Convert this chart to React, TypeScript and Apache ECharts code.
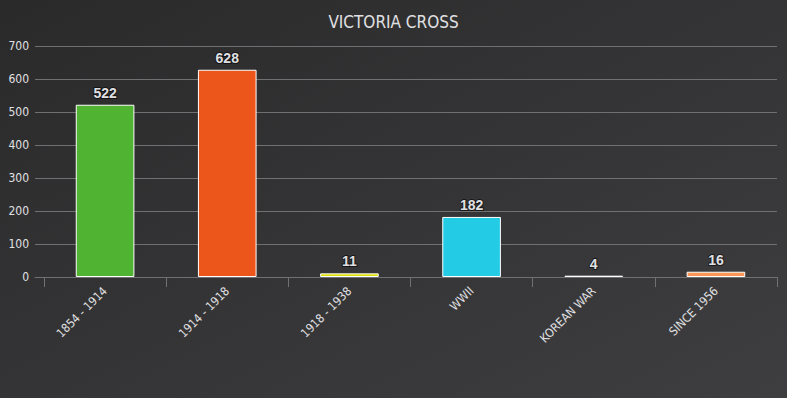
import React, { useEffect, useRef } from "react";
import * as echarts from "echarts";

const categories = ["1854 - 1914", "1914 - 1918", "1918 - 1938", "WWII", "KOREAN WAR", "SINCE 1956"];
const values = [522, 628, 11, 182, 4, 16];
const barColors = ["#50B432", "#ED561B", "#DDDF00", "#24CBE5", "#FFFFFF", "#FF9655"];
const yMax = 700;
const yInterval = 100;

const narrow = "'DejaVu Sans Condensed', 'Liberation Sans Narrow', sans-serif";

export default function App() {
  const ref = useRef<HTMLDivElement>(null);
  useEffect(() => {
    if (!ref.current) return;
    const chart = echarts.init(ref.current, undefined, { renderer: "svg" });
    chart.setOption({
      animation: false,
      backgroundColor: {
        type: "linear", x: 0, y: 0, x2: 1, y2: 1,
        colorStops: [
          { offset: 0, color: "#2a2a2b" },
          { offset: 1, color: "#3e3e40" },
        ],
      },
      title: {
        text: "VICTORIA CROSS",
        left: "center",
        top: 8,
        textStyle: { color: "#E0E0E3", fontSize: 17, fontWeight: "normal", fontFamily: narrow },
      },
      grid: [
        { left: 35, right: 10, top: 46, bottom: 121 },
        { left: 44, right: 10, top: 46, bottom: 121 },
      ],
      xAxis: [
        {
          type: "value", gridIndex: 0, min: 0, max: 1,
          axisLine: { show: true, lineStyle: { color: "#707073", width: 1 } },
          axisTick: { show: false }, axisLabel: { show: false }, splitLine: { show: false },
        },
        {
          type: "category", gridIndex: 1, data: categories,
          axisLine: { show: false },
          axisTick: { show: true, length: 10, lineStyle: { color: "#707073" } },
          axisLabel: { rotate: 45, color: "#E0E0E3", fontSize: 12, fontFamily: narrow, margin: 12 },
        },
      ],
      yAxis: [
        {
          type: "value", gridIndex: 0, min: 0, max: yMax, interval: yInterval,
          axisLine: { show: false }, axisTick: { show: false },
          axisLabel: { color: "#E0E0E3", fontSize: 12, fontFamily: narrow, margin: 6 },
          splitLine: { lineStyle: { color: "#707073", width: 1 } },
        },
        {
          type: "value", gridIndex: 1, min: 0, max: yMax, interval: yInterval,
          show: false, splitLine: { show: false },
        },
      ],
      series: [
        {
          type: "bar",
          xAxisIndex: 1,
          yAxisIndex: 1,
          barWidth: "48%",
          data: values.map((v, i) => ({
            value: v,
            itemStyle: { color: barColors[i], borderColor: "#FFFFFF", borderWidth: 1 },
          })),
          label: {
            show: true,
            position: "top",
            distance: 5,
            color: "#E0E0E3",
            fontSize: 14,
            fontWeight: "bold",
            fontFamily: "'Liberation Sans', Arial, sans-serif",
            textBorderColor: "rgba(0,0,0,0.55)",
            textBorderWidth: 2,
          },
        },
      ],
    });
    return () => chart.dispose();
  }, []);
  return <div ref={ref} style={{ position: "fixed", left: 0, top: 0, width: 787, height: 398 }} />;
}
